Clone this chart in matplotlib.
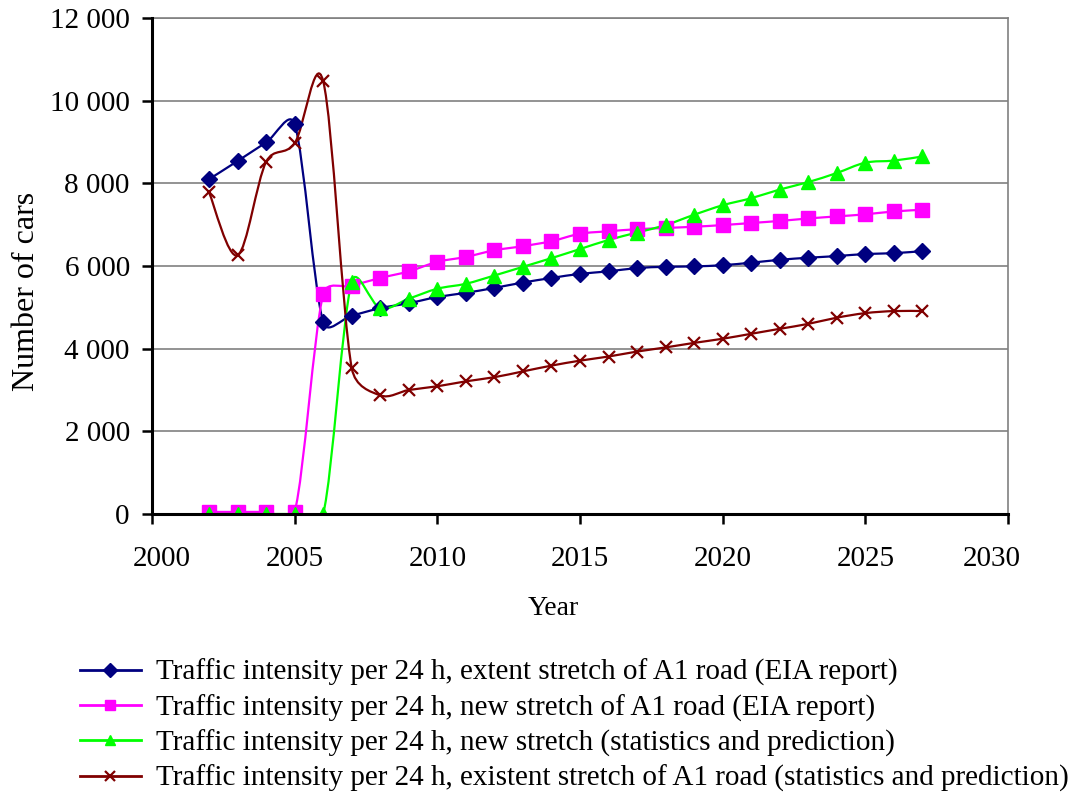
import numpy as np
import matplotlib.pyplot as plt
from matplotlib.path import Path
from matplotlib.patches import PathPatch
from matplotlib.lines import Line2D
from matplotlib.ticker import FuncFormatter
from matplotlib.transforms import ScaledTranslation

plt.rcParams['font.family'] = ['Liberation Serif', 'DejaVu Serif']

years = np.arange(2002, 2028)

# extent stretch of A1 road (EIA report)
eia_old = [8100, 8540, 8990, 9430, 4640, 4800, 4980, 5100, 5250, 5350,
           5470, 5600, 5710, 5810, 5870, 5950, 5980, 5990, 6020, 6080,
           6150, 6200, 6240, 6290, 6310, 6360]
# new stretch of A1 road (EIA report)
eia_new = [50, 50, 50, 50, 5320, 5520, 5710, 5870, 6100, 6220,
           6380, 6480, 6600, 6780, 6840, 6890, 6920, 6950, 6990, 7040,
           7090, 7150, 7200, 7250, 7320, 7360]
# new stretch (statistics and prediction)
stat_new = [0, 0, 0, 0, 0, 5620, 4980, 5210, 5450, 5570,
            5770, 5980, 6190, 6410, 6630, 6810, 6990, 7240, 7470, 7640,
            7850, 8030, 8250, 8500, 8550, 8650]
# existent stretch of A1 road (statistics and prediction)
stat_old = [7780, 6260, 8520, 8970, 10470, 3530, 2870, 3000, 3090, 3210,
            3310, 3450, 3590, 3710, 3810, 3930, 4030, 4140, 4240, 4360,
            4480, 4600, 4750, 4860, 4910, 4910]

labels = [
    'Traffic intensity per 24 h, extent stretch of A1 road (EIA report)',
    'Traffic intensity per 24 h, new stretch of A1 road (EIA report)',
    'Traffic intensity per 24 h, new stretch (statistics and prediction)',
    'Traffic intensity per 24 h, existent stretch of A1 road (statistics and prediction)',
]

X0, X1, Y0, Y1 = 2000, 2030, 0, 12000
AX_W, AX_H = 856, 496  # axes size in pixels


def smooth_path(x, y):
    # smoothed line as cubic Bezier segments (Catmull-Rom arms of 1/6 of
    # the neighbour chord, capped at half the segment length on screen)
    scale = np.array([AX_W / (X1 - X0), AX_H / (Y1 - Y0)])
    p = np.column_stack([x, y]).astype(float) * scale
    n = len(p)
    tang = [p[min(i + 1, n - 1)] - p[max(i - 1, 0)] for i in range(n)]
    pts = [p[0]]
    codes = [Path.MOVETO]
    for i in range(n - 1):
        d = np.hypot(*(p[i + 1] - p[i]))
        arms = []
        for t in (tang[i], tang[i + 1]):
            lt = np.hypot(*t)
            arms.append(t * min(1 / 6, d / (2 * lt)) if lt > 0 else t * 0)
        pts += [p[i] + arms[0], p[i + 1] - arms[1], p[i + 1]]
        codes += [Path.CURVE4] * 3
    return Path(np.array(pts) / scale, codes)


fig = plt.figure(figsize=(10.81, 7.94), dpi=100)
ax = fig.add_axes([152 / 1081, 1 - 514 / 794, AX_W / 1081, AX_H / 794])

series = [
    (eia_old, '#000080', 'D', 8, 1.0),
    (eia_new, '#FF00FF', 's', 10, 1.0),
    (stat_new, '#00FF00', '^', 10, 1.0),
    (stat_old, '#800000', 'x', 9, 1.6),
]

handles = []
for (vals, col, mk, ms, mew), lab in zip(series, labels):
    ax.add_patch(PathPatch(smooth_path(years, vals), fill=False,
                           edgecolor=col, lw=1.6, zorder=3))
    ax.plot(years, vals, linestyle='none', marker=mk, ms=ms, color=col,
            mec=col, mew=mew, zorder=4)
    handles.append(Line2D([], [], color=col, lw=2, marker=mk,
                          ms=7, mew=mew))

ax.set_xlim(X0, X1)
ax.set_ylim(Y0, Y1)
ax.set_xticks(range(2000, 2031, 5))
ax.set_yticks(range(0, 12001, 2000))
ax.yaxis.set_major_formatter(FuncFormatter(lambda v, p: f'{int(v):,}'.replace(',', ' ')))
ax.grid(axis='y', color='#808080', lw=1.2)
ax.set_axisbelow(True)

for s in ['left', 'bottom']:
    ax.spines[s].set_linewidth(2.2)
    ax.spines[s].set_color('black')
    ax.spines[s].set_zorder(5)
ax.spines['top'].set_color('#808080')
ax.spines['top'].set_linewidth(1.2)
ax.spines['right'].set_color('#808080')
ax.spines['right'].set_linewidth(1.2)

ax.tick_params(axis='both', direction='out', length=7, width=1.8,
               labelsize=21, colors='black')
ax.tick_params(axis='x', pad=16)
ax.tick_params(axis='y', pad=9)

# end labels sit a little inside the axis ends
ticks = ax.xaxis.get_major_ticks()
for t, dx in [(ticks[0], 10), (ticks[-1], -16)]:
    t.label1.set_transform(t.label1.get_transform()
                           + ScaledTranslation(dx / 100, 0, fig.dpi_scale_trans))

ax.set_xlabel('Year', fontsize=20)
ax.xaxis.set_label_coords((553 - 152) / AX_W, -0.165)
ax.set_ylabel('Number of cars', fontsize=23)
ax.yaxis.set_label_coords((41 - 152) / AX_W, (514 - 291) / AX_H)

fig.legend(handles, labels, loc='upper left',
           bbox_to_anchor=(0.063, 0.185), frameon=False, fontsize=21,
           handlelength=2.1, handletextpad=0.5, labelspacing=0.28,
           borderaxespad=0)

fig.savefig('out.png', dpi=100)
